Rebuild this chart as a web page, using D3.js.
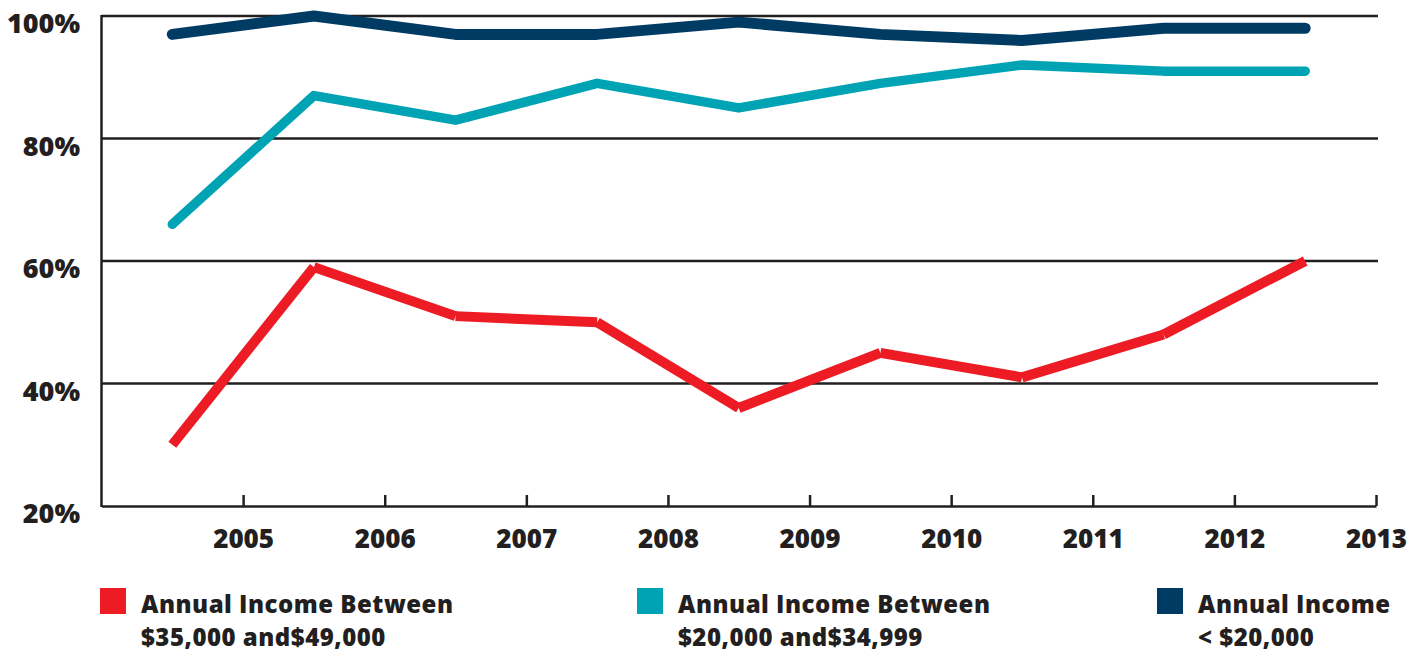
<html>
<head>
<meta charset="utf-8">
<script src="https://d3js.org/d3.v7.min.js"></script>
<style>
  body { margin: 0; background: #fff; }
  text { font-family: "Open Sans", sans-serif; font-weight: 800; fill: #231f20; }
</style>
</head>
<body>
<div id="chart"></div>
<script>
// data (values at mid-year)
var years = [2004.5, 2005.5, 2006.5, 2007.5, 2008.5, 2009.5, 2010.5, 2011.5, 2012.5]
var under20k = [97, 100, 97, 97, 99, 97, 96, 98, 98]
var from20to35k = [66, 87, 83, 89, 85, 89, 92, 91, 91]
var from35to49k = [30, 59, 51, 50, 36, 45, 41, 48, 60]
var yTicks = [20, 40, 60, 80, 100]
var xTicks = [2005, 2006, 2007, 2008, 2009, 2010, 2011, 2012, 2013]
var seriesNames = [["Annual Income Between", "$35,000 and$49,000"],
                   ["Annual Income Between", "$20,000 and$34,999"],
                   ["Annual Income", "< $20,000"]]
var colors = ["#ed1c24", "#00a3b4", "#003b64"]

var width = 1426, height = 653
var svg = d3.select('#chart').append('svg')
    .attr('width', width).attr('height', height)

var x = d3.scaleLinear().domain([2004, 2013]).range([101.5, 1376])
var y = d3.scaleLinear().domain([20, 100]).range([506, 16])

// gridlines
svg.selectAll('.grid').data(yTicks.slice(1)).enter().append('line')
    .attr('x1', x(2004)).attr('x2', 1378)
    .attr('y1', d => y(d)).attr('y2', d => y(d))
    .attr('stroke', '#231f20').attr('stroke-width', 2.5)

// left axis line and bottom axis
svg.append('line').attr('x1', x(2004)).attr('x2', x(2004))
    .attr('y1', y(100) - 1).attr('y2', y(20) + 1)
    .attr('stroke', '#231f20').attr('stroke-width', 2.5)

var xAxis = d3.axisBottom(x).tickValues(xTicks).tickFormat(d3.format('d'))
    .tickSizeInner(-11).tickSizeOuter(0).tickPadding(24)
var gx = svg.append('g').attr('transform', 'translate(0,' + y(20) + ')').call(xAxis)
gx.select('.domain').attr('stroke', '#231f20').attr('stroke-width', 2.5)
gx.selectAll('.tick line').attr('stroke', '#231f20').attr('stroke-width', 2.5)
gx.selectAll('.tick text').attr('font-size', 26).attr('font-family', '"Open Sans", sans-serif')
    .attr('font-weight', 800).attr('fill', '#231f20')

// y labels
svg.selectAll('.ylab').data(yTicks).enter().append('text')
    .attr('x', 80).attr('y', d => y(d) + 17)
    .attr('text-anchor', 'end').attr('font-size', 27)
    .text(d => d + '%')

// navy and teal: continuous round lines
var line = d3.line().x((d, i) => x(years[i])).y(d => y(d))
svg.append('path').datum(from20to35k).attr('d', line)
    .attr('fill', 'none').attr('stroke', colors[1]).attr('stroke-width', 9.5)
    .attr('stroke-linecap', 'round').attr('stroke-linejoin', 'round')
svg.append('path').datum(under20k).attr('d', line)
    .attr('fill', 'none').attr('stroke', colors[2]).attr('stroke-width', 11)
    .attr('stroke-linecap', 'round').attr('stroke-linejoin', 'round')

// red: separate butt segments
var redPts = from35to49k.map((v, i) => [years[i], v])
svg.selectAll('.red').data(d3.pairs(redPts)).enter().append('line')
    .attr('x1', d => x(d[0][0])).attr('y1', d => y(d[0][1]))
    .attr('x2', d => x(d[1][0])).attr('y2', d => y(d[1][1]))
    .attr('stroke', colors[0]).attr('stroke-width', 10).attr('stroke-linecap', 'butt')

// legend
var legendX = [100, 637, 1157]
var lg = svg.selectAll('.lg').data(seriesNames).enter().append('g')
    .attr('transform', (d, i) => 'translate(' + legendX[i] + ',588)')
lg.append('rect').attr('width', 26).attr('height', 26).attr('fill', (d, i) => colors[i])
lg.append('text').attr('x', 41).attr('y', 25).attr('font-size', 24)
    .attr('letter-spacing', 0.5).text(d => d[0])
lg.append('text').attr('x', 41).attr('y', 58).attr('font-size', 24)
    .attr('letter-spacing', 0.5).text(d => d[1])
</script>
</body>
</html>
